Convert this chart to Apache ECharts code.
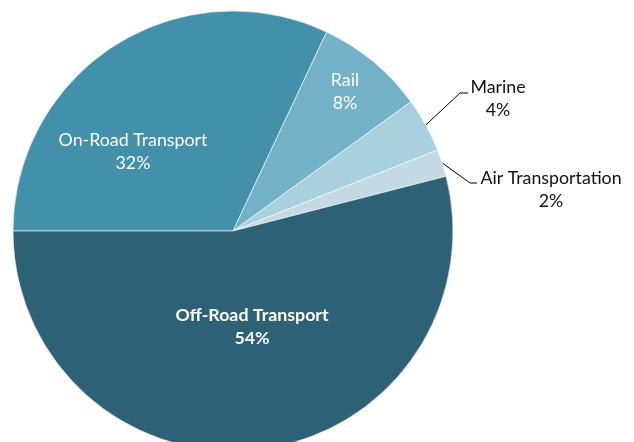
<!DOCTYPE html>
<html>
<head>
<meta charset="utf-8">
<script src="https://cdn.jsdelivr.net/npm/echarts@6/dist/echarts.min.js"></script>
<style>html,body{margin:0;padding:0;background:#fff;}#c{width:634px;height:442px;}</style>
</head>
<body>
<div id="c"></div>
<script>
const categories = ['On-Road Transport', 'Rail', 'Marine', 'Air Transportation', 'Off-Road Transport'];
const values = [32, 8, 4, 2, 54];
const palette = ['#4290a9', '#72b1c8', '#a9d0dd', '#c4d9e3', '#2d6175'];

// label anchor positions (layout only)
const labelPos = [[133, 152], [345, 92], [498, 99], [551, 190], [252, 327]];
const elbows = [null, null, [[460, 93], [468, 93]], [[470, 183], [477, 183]], null];

const chart = echarts.init(document.getElementById('c'));
chart.setOption({
  animation: false,
  series: [{
    type: 'pie',
    center: [233, 231],
    radius: 220,
    startAngle: 180,
    clockwise: true,
    itemStyle: { borderColor: '#ffffff', borderWidth: 0.6 },
    label: {
      formatter: '{b}\n{d}%',
      fontFamily: 'Lato',
      fontSize: 17.8,
      lineHeight: 23,
      align: 'center'
    },
    labelLine: { lineStyle: { color: '#000', width: 1 }, length: 20, length2: 8, smooth: false },
    labelLayout: function (p) {
      const i = p.dataIndex;
      const o = { x: labelPos[i][0], y: labelPos[i][1], align: 'center', verticalAlign: 'middle' };
      if (elbows[i] && p.labelLinePoints) {
        o.labelLinePoints = [p.labelLinePoints[0], elbows[i][0], elbows[i][1]];
      }
      return o;
    },
    data: categories.map((c, i) => {
      const inside = !(i === 2 || i === 3);
      return {
        name: c,
        value: values[i],
        itemStyle: { color: palette[i] },
        label: {
          position: inside ? 'inside' : 'outside',
          color: inside ? '#ffffff' : '#111111',
          fontWeight: i === 4 ? 'bold' : 'normal'
        },
        labelLine: { show: !inside }
      };
    })
  }]
});
</script>
</body>
</html>
